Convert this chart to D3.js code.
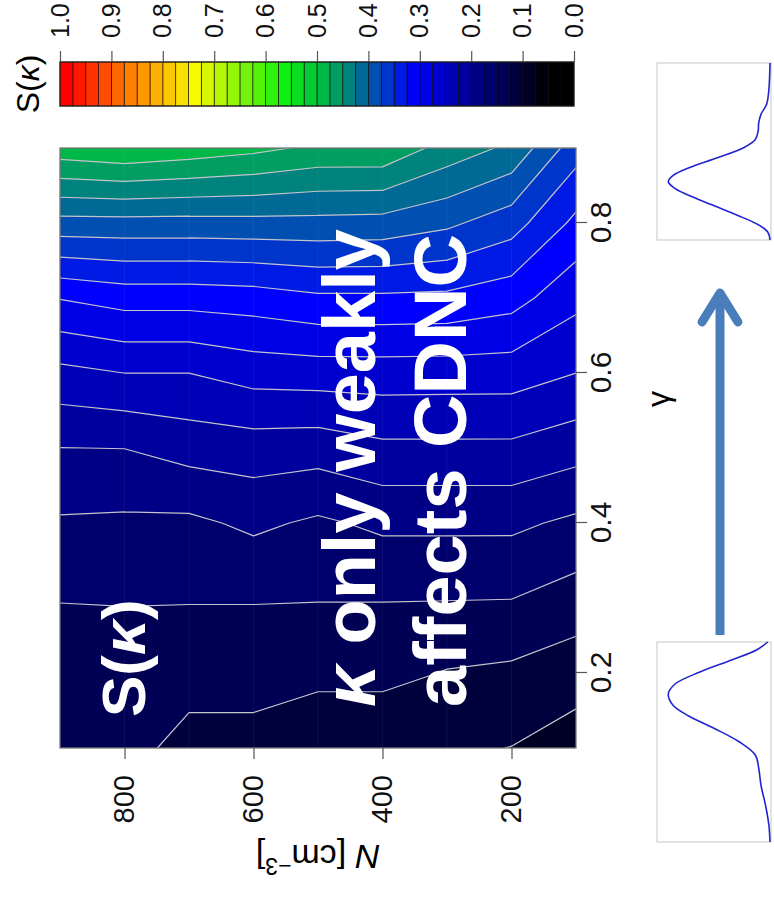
<!DOCTYPE html>
<html>
<head>
<meta charset="utf-8">
<script src="https://cdn.jsdelivr.net/npm/d3@7"></script>
<style>
  body { margin: 0; background: #fff; }
  text { font-family: "Liberation Sans", Arial, Helvetica, sans-serif; }
</style>
</head>
<body>
<div id="chart"></div>
<script>
// grid of the contour field: rows are gamma, columns are N
var gammaValues = [0.1, 0.2, 0.3, 0.4, 0.5, 0.6, 0.7, 0.8, 0.9];
var nValues = [100, 200, 300, 400, 500, 600, 700, 800, 900];
var sValues = [
  [0.088, 0.0995, 0.104, 0.101, 0.101, 0.112, 0.112, 0.1385, 0.135],
  [0.111, 0.1201, 0.1236, 0.133, 0.133, 0.1395, 0.1395, 0.142, 0.143],
  [0.1396, 0.1505, 0.151, 0.151, 0.151, 0.151, 0.151, 0.151, 0.1505],
  [0.170, 0.180, 0.180, 0.180, 0.171, 0.180, 0.1698, 0.1706, 0.172],
  [0.210, 0.220, 0.220, 0.220, 0.211, 0.213, 0.210, 0.2003, 0.1998],
  [0.2501, 0.2616, 0.262, 0.2625, 0.262, 0.260, 0.2501, 0.2501, 0.243],
  [0.282, 0.310, 0.3194, 0.3206, 0.3206, 0.3128, 0.310, 0.310, 0.301],
  [0.3188, 0.361, 0.380, 0.3905, 0.392, 0.392, 0.391, 0.3915, 0.391],
  [0.361, 0.4196, 0.440, 0.470, 0.470, 0.4816, 0.490, 0.497, 0.490]
];
var levels = d3.range(0, 40).map(function(k){ return k * 0.025; });

var gammaTicks = [0.2, 0.4, 0.6, 0.8];
var nTicks = [200, 400, 600, 800];
var keyTicks = [0, 0.1, 0.2, 0.3, 0.4, 0.5, 0.6, 0.7, 0.8, 0.9, 1.0];

// small size-distribution sketches (position along box 0..1, relative height 0..1)
var lowGammaPos = [0, 0.085, 0.185, 0.285, 0.37, 0.435, 0.5, 0.57, 0.63, 0.685, 0.74, 0.79, 0.85, 0.91, 0.96, 1];
var lowGammaDens = [0, 0.01, 0.04, 0.08, 0.10, 0.13, 0.27, 0.50, 0.72, 0.86, 0.90, 0.84, 0.62, 0.34, 0.12, 0.02];
var highGammaPos = [0, 0.045, 0.085, 0.14, 0.2, 0.256, 0.295, 0.33, 0.364, 0.41, 0.466, 0.523, 0.568, 0.614, 0.66, 0.71, 0.767, 0.85, 1];
var highGammaDens = [0, 0.02, 0.10, 0.29, 0.52, 0.73, 0.85, 0.90, 0.86, 0.71, 0.46, 0.23, 0.13, 0.105, 0.10, 0.08, 0.03, 0.01, 0];

var W = 774, H = 899;

// palette of the key
var palette = d3.scaleLinear()
  .domain([0, 0.05, 0.3125, 0.4875, 0.5625, 0.7375, 0.85, 0.9875, 1])
  .range(['#000000', '#000000', '#0000ff', '#00b848', '#10f010', '#f8f800', '#ff8c00', '#ff0000', '#ff0000'])
  .clamp(true);
var bandColor = function(t){ return palette(t + 0.0125); };

var svg = d3.select('#chart')
  .append('svg')
    .attr('width', W)
    .attr('height', H);

// the figure is drawn upright and then turned a quarter turn
var fig = svg.append('g')
  .attr('transform', 'translate(0,' + H + ') rotate(-90)');

var x = d3.scaleLinear().domain([0.1, 0.9]).range([151, 751]);
var y = d3.scaleLinear().domain([100, 900]).range([576, 60]);

//Cells of the grid, with corner values
var cells = [];
for (var i = 0; i < gammaValues.length - 1; i++) {
  for (var j = 0; j < nValues.length - 1; j++) {
    cells.push([
      {g: gammaValues[i], n: nValues[j], v: sValues[i][j]},
      {g: gammaValues[i + 1], n: nValues[j], v: sValues[i + 1][j]},
      {g: gammaValues[i + 1], n: nValues[j + 1], v: sValues[i + 1][j + 1]},
      {g: gammaValues[i], n: nValues[j + 1], v: sValues[i][j + 1]}
    ]);
  }
}

var lerp = function(p, q, t){
  var f = (t - p.v) / (q.v - p.v);
  return [p.g + f * (q.g - p.g), p.n + f * (q.n - p.n)];
};

// part of a cell where value >= t
var clipCell = function(pts, t){
  var out = [];
  for (var a = 0; a < 4; a++) {
    var p = pts[a], q = pts[(a + 1) % 4];
    var pin = p.v >= t, qin = q.v >= t;
    if (pin) out.push([p.g, p.n]);
    if (pin !== qin) out.push(lerp(p, q, t));
  }
  return out;
};

var cellSegments = function(pts, t){
  var cross = [];
  for (var a = 0; a < 4; a++) {
    var p = pts[a], q = pts[(a + 1) % 4];
    if ((p.v >= t) !== (q.v >= t)) cross.push(lerp(p, q, t));
  }
  if (cross.length === 2) return [[cross[0], cross[1]]];
  if (cross.length === 4) return [[cross[0], cross[1]], [cross[2], cross[3]]];
  return [];
};

var toXY = function(pt){ return x(pt[0]).toFixed(2) + ',' + y(pt[1]).toFixed(2); };

// filled bands
var bands = levels.map(function(t){
  var d = '';
  cells.forEach(function(c){
    var poly = clipCell(c, t);
    if (poly.length > 2) d += 'M' + poly.map(toXY).join('L') + 'Z';
  });
  return {t: t, d: d};
}).filter(function(b){ return b.d.length > 0; });

fig.append('g').selectAll('path')
  .data(bands).enter().append('path')
    .attr('d', function(b){ return b.d; })
    .attr('fill', function(b){ return bandColor(b.t); });

// faint seams along the N grid lines
fig.append('g').selectAll('line')
  .data(nValues.slice(1, -1)).enter().append('line')
    .attr('x1', x(0.1)).attr('x2', x(0.9))
    .attr('y1', function(d){ return y(d); })
    .attr('y2', function(d){ return y(d); })
    .attr('stroke', 'rgba(255,255,255,0.05)')
    .attr('stroke-width', 1);

// contour lines
var lines = levels.slice(1).map(function(t){
  var d = '';
  cells.forEach(function(c){
    cellSegments(c, t).forEach(function(s){
      d += 'M' + toXY(s[0]) + 'L' + toXY(s[1]);
    });
  });
  return d;
}).filter(function(d){ return d.length > 0; });

fig.append('g').selectAll('path')
  .data(lines).enter().append('path')
    .attr('d', function(d){ return d; })
    .attr('fill', 'none')
    .attr('stroke', '#c4c4cc')
    .attr('stroke-width', 1.2)
    .attr('stroke-linecap', 'round');

// frame
fig.append('rect')
  .attr('x', x(0.1)).attr('y', y(900))
  .attr('width', x(0.9) - x(0.1)).attr('height', y(100) - y(900))
  .attr('fill', 'none').attr('stroke', '#777').attr('stroke-width', 1.3);

// axes
var styleAxis = function(g, size){
  g.select('.domain').remove();
  g.selectAll('.tick line').attr('stroke', '#555').attr('stroke-width', 1.2);
  g.selectAll('.tick text').attr('fill', '#111').style('font-size', size + 'px');
};

fig.append('g')
  .attr('transform', 'translate(0,' + y(100) + ')')
  .call(d3.axisBottom(x).tickValues(gammaTicks).tickSize(11).tickPadding(3).tickFormat(d3.format('.1f')))
  .call(styleAxis, 30);

fig.append('g')
  .attr('transform', 'translate(' + x(0.1) + ',0)')
  .call(d3.axisLeft(y).tickValues(nTicks).tickSize(11).tickPadding(16).tickFormat(d3.format('d')))
  .call(styleAxis, 29);

fig.append('text')
  .attr('x', 500).attr('y', 669)
  .attr('text-anchor', 'middle')
  .style('font-size', '32px')
  .text('γ');

var nTitle = fig.append('text')
  .attr('transform', 'translate(54,' + y(500) + ') rotate(-90)')
  .attr('text-anchor', 'middle')
  .style('font-size', '34px');
nTitle.append('tspan').style('font-style', 'italic').text('N');
nTitle.append('tspan').text(' [cm');
nTitle.append('tspan').attr('dy', -13).style('font-size', '23px').text('−3');
nTitle.append('tspan').attr('dy', 13).text(']');

// annotations
var ann = fig.append('g').attr('fill', '#fff').style('font-weight', 'bold');
var a1 = ann.append('text').attr('x', 182).attr('y', 145).style('font-size', '62px');
a1.append('tspan').text('S(');
a1.append('tspan').style('font-style', 'italic').text('κ');
a1.append('tspan').text(')');
var a2 = ann.append('text').attr('x', 192).attr('y', 375).style('font-size', '74px');
a2.append('tspan').style('font-style', 'italic').text('κ');
a2.append('tspan').text(' only weakly');
ann.append('text').attr('x', 192).attr('y', 466).style('font-size', '74px').text('affects CDNC');

// colour key
var keyY = d3.scaleLinear().domain([0, 1]).range([574, 60]);
var keyX0 = 793, keyX1 = 837;
var key = fig.append('g');
key.selectAll('rect')
  .data(levels).enter().append('rect')
    .attr('x', keyX0)
    .attr('width', keyX1 - keyX0)
    .attr('y', function(t){ return keyY(t + 0.025); })
    .attr('height', function(t){ return keyY(t) - keyY(t + 0.025); })
    .attr('fill', function(t){ return bandColor(t); })
    .attr('stroke', 'rgba(0,0,0,0.75)')
    .attr('stroke-width', 0.8);
key.append('rect')
  .attr('x', keyX0).attr('y', keyY(1))
  .attr('width', keyX1 - keyX0).attr('height', keyY(0) - keyY(1))
  .attr('fill', 'none').attr('stroke', '#222').attr('stroke-width', 1.2);
key.append('g')
  .attr('transform', 'translate(' + keyX1 + ',0)')
  .call(d3.axisRight(keyY).tickValues(keyTicks).tickSize(11).tickPadding(13).tickFormat(d3.format('.1f')))
  .call(styleAxis, 25);
var kt = key.append('text')
  .attr('x', (keyX0 + keyX1) / 2).attr('y', 39)
  .attr('text-anchor', 'middle')
  .style('font-size', '32px');
kt.append('tspan').text('S(');
kt.append('tspan').style('font-style', 'italic').text('κ');
kt.append('tspan').text(')');

// distribution sketches and the arrow
var drawInset = function(x0, x1, pos, dens){
  var ix = d3.scaleLinear().domain([0, 1]).range([x0, x1]);
  var iy = d3.scaleLinear().domain([0, 1]).range([770, 657]);
  fig.append('rect')
    .attr('x', x0).attr('y', 657)
    .attr('width', x1 - x0).attr('height', 114)
    .attr('fill', '#fff').attr('stroke', '#cfcfcf').attr('stroke-width', 1.2);
  var line = d3.line()
    .x(function(d){ return ix(d[0]); })
    .y(function(d){ return iy(d[1]); })
    .curve(d3.curveCatmullRom);
  fig.append('path')
    .attr('d', line(d3.zip(pos, dens)))
    .attr('fill', 'none')
    .attr('stroke', '#2323d2')
    .attr('stroke-width', 1.6);
};
drawInset(57, 257, lowGammaPos, lowGammaDens);
drawInset(659, 836, highGammaPos, highGammaDens);

var arrow = fig.append('g')
  .attr('stroke', '#4a7ebb')
  .attr('stroke-width', 9)
  .attr('fill', 'none')
  .attr('stroke-linecap', 'round')
  .attr('stroke-linejoin', 'round');
arrow.append('line').attr('x1', 264).attr('y1', 720).attr('x2', 603).attr('y2', 720).attr('stroke-linecap', 'butt');
arrow.append('polyline').attr('points', '577,702 606,720 577,738');
</script>
</body>
</html>
